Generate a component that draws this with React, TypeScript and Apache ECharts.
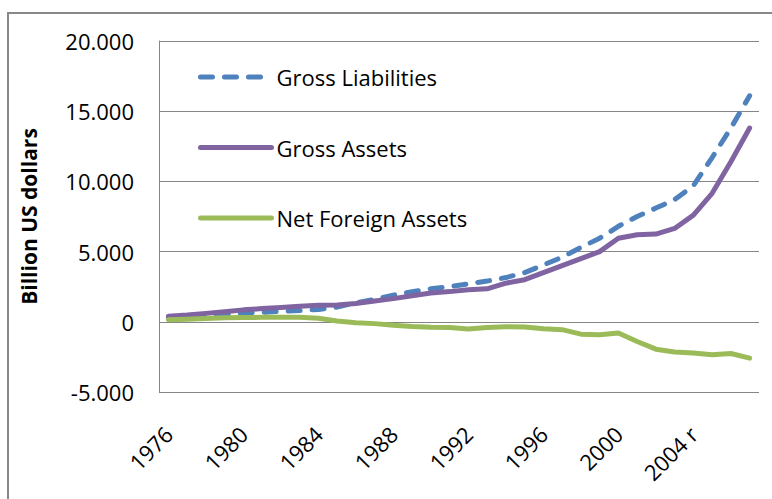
import React, { useEffect, useRef } from "react";
import * as echarts from "echarts";

const years: string[] = [
  "1976", "1977", "1978", "1979", "1980", "1981", "1982", "1983",
  "1984", "1985", "1986", "1987", "1988", "1989", "1990", "1991",
  "1992", "1993", "1994", "1995", "1996", "1997", "1998", "1999",
  "2000", "2001", "2002", "2003", "2004 r", "2005", "2006", "2007",
];

const grossLiabilities: number[] = [
  250, 330, 420, 520, 620, 680, 740, 800,
  880, 1050, 1350, 1600, 1900, 2150, 2350, 2500,
  2700, 2900, 3150, 3500, 4050, 4600, 5300, 5950,
  6800, 7500, 8100, 8700, 9700, 11700, 13800, 16100,
];

const grossAssets: number[] = [
  400, 480, 600, 720, 850, 940, 1020, 1100,
  1180, 1200, 1300, 1480, 1650, 1850, 2050, 2150,
  2280, 2350, 2750, 3000, 3500, 4000, 4500, 5000,
  5950, 6200, 6250, 6650, 7600, 9150, 11400, 13800,
];

const netForeignAssets: number[] = [
  150, 180, 230, 280, 300, 320, 330, 320,
  250, 60, -60, -130, -250, -330, -380, -400,
  -520, -400, -350, -370, -500, -560, -880, -920,
  -800, -1400, -1950, -2150, -2230, -2350, -2260, -2590,
];

const seriesNames: string[] = ["Gross Liabilities", "Gross Assets", "Net Foreign Assets"];
const seriesColors: string[] = ["#4F81BD", "#8064A2", "#9BBB59"];
const yTicks: number[] = [-5000, 0, 5000, 10000, 15000, 20000];
const yTitle = "Billion US dollars";

const FONT = "'Open Sans', 'Noto Sans', sans-serif";
const DASH = [12, 12];

function fmt(v: number): string {
  const s = Math.abs(v).toString().replace(/\B(?=(\d{3})+(?!\d))/g, ".");
  return (v < 0 ? "-" : "") + s;
}

export default function App() {
  const ref = useRef<HTMLDivElement>(null);
  useEffect(() => {
    if (!ref.current) return;
    const chart = echarts.init(ref.current, undefined, { renderer: "svg" });
    const gridColor = "#868686";
    const legendData = seriesNames.map((name, i) => ({
      name,
      lineStyle: {
        color: seriesColors[i],
        width: 5,
        type: i === 0 ? DASH : "solid",
        cap: "round",
      },
      itemStyle: { color: seriesColors[i], opacity: 0 },
    }));
    chart.setOption({
      animation: false,
      backgroundColor: "#ffffff",
      textStyle: { fontFamily: FONT },
      graphic: [
        {
          type: "rect",
          shape: { x: 8, y: 13, width: 800, height: 600 },
          style: { fill: "none", stroke: "#888888", lineWidth: 2 },
          silent: true,
          z: -10,
        },
      ],
      grid: {
        left: 159,
        right: 13,
        top: 41,
        bottom: 107,
        containLabel: false,
        outerBoundsMode: "none",
      },
      legend: {
        orient: "vertical",
        left: 193,
        top: 60,
        itemWidth: 71,
        itemHeight: 2,
        itemGap: 46.5,
        textStyle: { fontFamily: FONT, fontSize: 22, color: "#000", lineHeight: 24 },
        data: legendData,
      },
      xAxis: {
        type: "category",
        data: years,
        boundaryGap: true,
        axisLine: { show: false, onZero: false },
        axisTick: { show: false },
        axisLabel: {
          interval: 3,
          rotate: 45,
          margin: 38,
          fontFamily: FONT,
          fontSize: 22,
          color: "#000",
        },
        splitLine: { show: false },
      },
      yAxis: {
        type: "value",
        min: yTicks[0],
        max: yTicks[yTicks.length - 1],
        interval: 5000,
        name: yTitle,
        nameLocation: "middle",
        nameGap: 120,
        nameTextStyle: { fontFamily: FONT, fontSize: 21, fontWeight: "bold", color: "#000" },
        axisLine: { show: true, lineStyle: { color: gridColor, width: 1 } },
        axisTick: { show: false },
        axisLabel: {
          margin: 25,
          fontFamily: FONT,
          fontSize: 22,
          color: "#000",
          formatter: (v: number) => fmt(v),
        },
        splitLine: { show: true, lineStyle: { color: gridColor, width: 1 } },
      },
      series: [
        {
          name: seriesNames[0],
          type: "line",
          data: grossLiabilities,
          symbol: "none",
          color: seriesColors[0],
          lineStyle: { color: seriesColors[0], width: 5, type: DASH, cap: "round", join: "round" },
        },
        {
          name: seriesNames[1],
          type: "line",
          data: grossAssets,
          symbol: "none",
          color: seriesColors[1],
          lineStyle: { color: seriesColors[1], width: 5, cap: "round", join: "round" },
        },
        {
          name: seriesNames[2],
          type: "line",
          data: netForeignAssets,
          symbol: "none",
          color: seriesColors[2],
          lineStyle: { color: seriesColors[2], width: 5, cap: "round", join: "round" },
        },
      ],
    });
    return () => chart.dispose();
  }, []);
  return (
    <div
      ref={ref}
      style={{ position: "fixed", left: 0, top: 0, width: 772, height: 499 }}
    />
  );
}
